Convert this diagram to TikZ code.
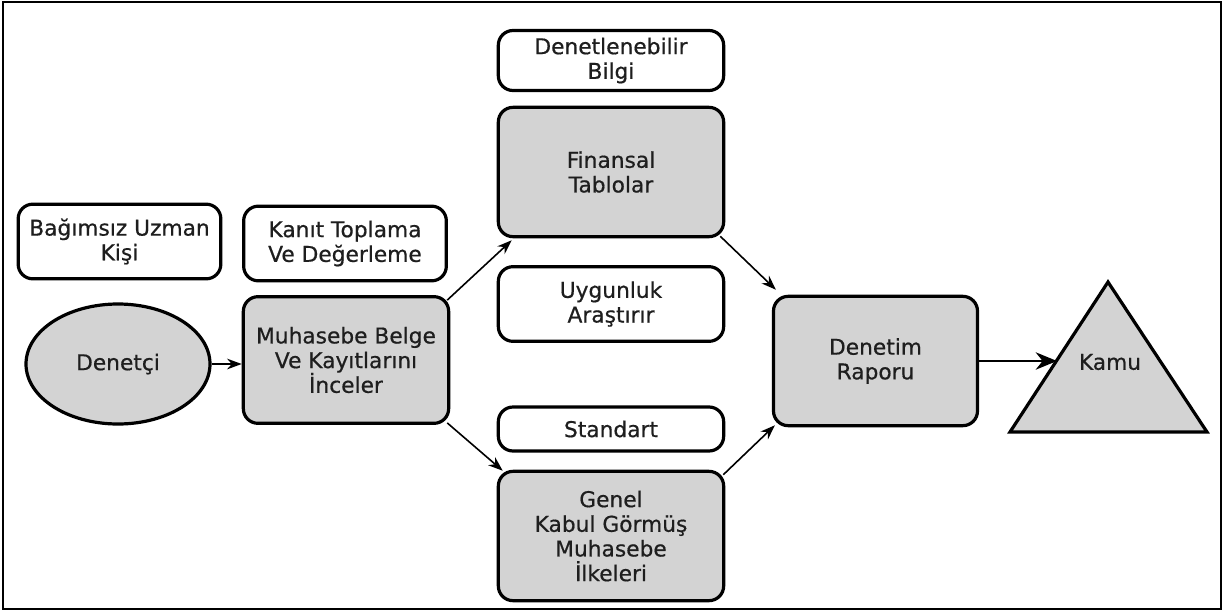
\documentclass[tikz,border=0pt]{standalone}
\usepackage{fontspec}
\setmainfont{DejaVu Sans}[FakeBold=0.6]
\usetikzlibrary{arrows.meta,calc,shapes.geometric}
\definecolor{boxgray}{RGB}{211,211,211}
\definecolor{inkgray}{RGB}{30,30,30}

\begin{document}
\begin{tikzpicture} [x=0.75pt, y=-0.75pt,
every node/.style = {shape=rectangle, rounded corners=11pt, draw, line width=2.4pt,
align=center, text=inkgray, font=\fontsize{16.3}{18.5}\selectfont},
whitebox/.style = {fill=white},
graybox/.style = {fill=boxgray},
link/.style = {-{Stealth[length=11pt,width=8pt]}, line width=1.2pt}]
\useasboundingbox (0,0) rectangle (1225,611);
\draw [line width=1.5pt] (3,2) rectangle (1221,609);
\node (bag) [whitebox, minimum width=152pt, minimum height=56pt] at (119.5,241.5) {Bağımsız Uzman\\Kişi};
\node (kan) [whitebox, minimum width=152pt, minimum height=56pt] at (345,243.5) {Kanıt Toplama\\Ve Değerleme};
\node (den) [graybox, shape=ellipse, minimum width=138pt, minimum height=90pt] at (118,364) {Denetçi};
\node (muh) [graybox, minimum width=154pt, minimum height=95pt] at (346,360) {Muhasebe Belge\\Ve Kayıtlarını\\İnceler};
\node (bil) [whitebox, minimum width=169pt, minimum height=45pt] at (611,60.5) {Denetlenebilir\\Bilgi};
\node (fin) [graybox, minimum width=169pt, minimum height=97pt] at (611,172) {Finansal\\Tablolar};
\node (uyg) [whitebox, minimum width=169pt, minimum height=56pt] at (611,304) {Uygunluk\\Araştırır};
\node (std) [whitebox, minimum width=169pt, minimum height=33pt] at (611,429) {Standart};
\node (gen) [graybox, minimum width=169pt, minimum height=97pt] at (611,536) {Genel\\Kabul Görmüş\\Muhasebe\\İlkeleri};
\node (rap) [graybox, minimum width=153pt, minimum height=97pt] at (875.5,361) {Denetim\\Raporu};
\coordinate (ktop) at (1108,282);
\coordinate (kleft) at (1010,432);
\coordinate (kright) at (1207,432);
\draw [line width=2.4pt, fill=boxgray] (ktop) -- (kleft) -- (kright) -- cycle;
\node (kamu) [draw=none] at (1110,362) {Kamu};
\coordinate (kin) at ($(kleft)!0.48!(ktop)$);
\draw [link] (den.east) -- (den.east -| muh.west);
\draw [link] ([shift={(-3,5)}]muh.north east) -- ([shift={(15,2)}]fin.south west);
\draw [link] ([shift={(-3,-2)}]muh.south east) -- ([shift={(6,1)}]gen.north west);
\draw [link] ([shift={(-5,-2)}]fin.south east) -- ([shift={(4,-5)}]rap.north west);
\draw [link] ([shift={(-2,5)}]gen.north east) -- ([shift={(3,-2)}]rap.south west);
\draw [link, line width=2pt, -{Stealth[length=16pt,width=13pt]}] (rap.east) -- (rap.east -| kin);
\end{tikzpicture}
\end{document}
